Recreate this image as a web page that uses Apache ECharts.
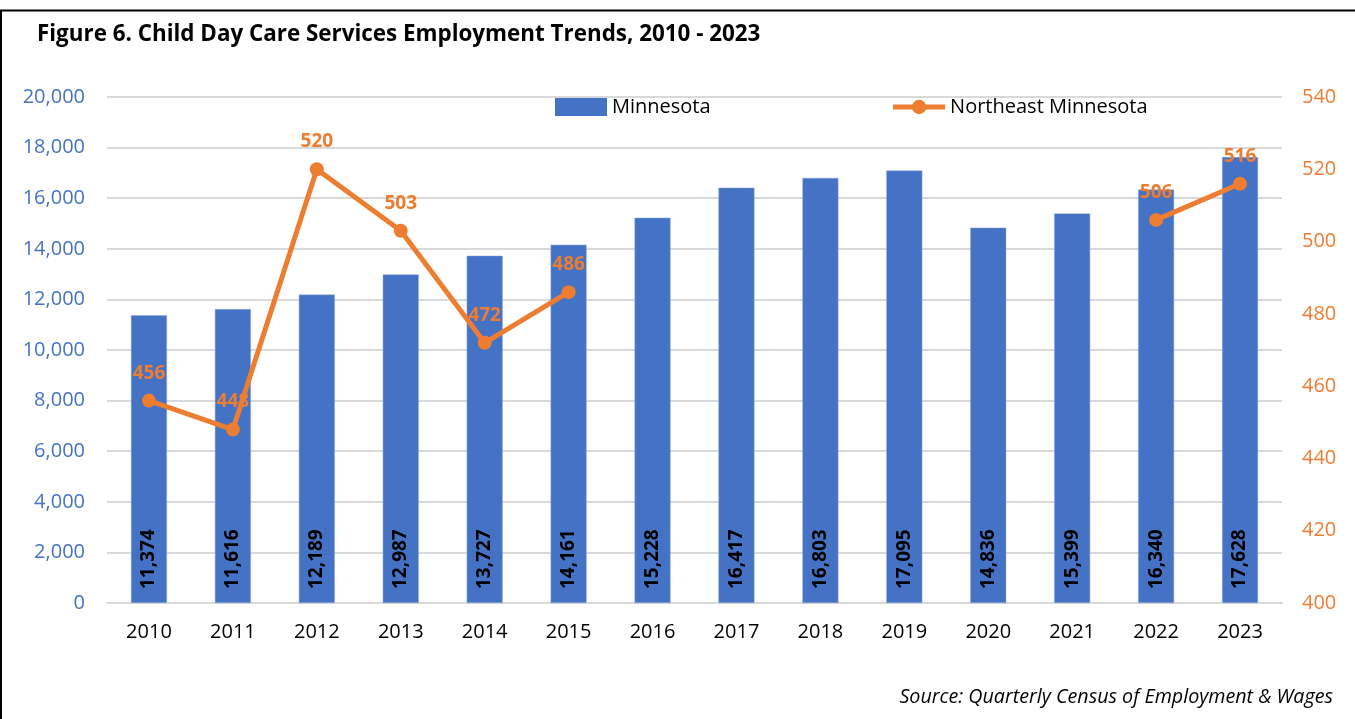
<!DOCTYPE html>
<html>
<head>
<meta charset="utf-8">
<script src="https://cdn.jsdelivr.net/npm/echarts@6/dist/echarts.min.js"></script>
<style>
html,body{margin:0;padding:0;background:#fff;}
#chart{width:1355px;height:719px;}
</style>
</head>
<body>
<div id="chart"></div>
<script>
const years = ['2010','2011','2012','2013','2014','2015','2016','2017','2018','2019','2020','2021','2022','2023'];
const minnesota = [11374,11616,12189,12987,13727,14161,15228,16417,16803,17095,14836,15399,16340,17628];
const northeast = [456,448,520,503,472,486,null,null,null,null,null,null,506,516];

const FONT = '"Open Sans", "Noto Sans", sans-serif';
const chart = echarts.init(document.getElementById('chart'), null, {renderer:'canvas'});
chart.setOption({
  backgroundColor:'#fff',
  animation:false,
  textStyle:{fontFamily:FONT},
  title:{
    text:'Figure 6. Child Day Care Services Employment Trends, 2010 - 2023',
    left:32, top:19,
    textStyle:{fontFamily:FONT, fontSize:22.4, fontWeight:'bold', color:'#000'}
  },
  graphic:[
    {type:'line', shape:{x1:0,y1:10.5,x2:1355,y2:10.5}, style:{stroke:'#000',lineWidth:2}},
    {type:'line', shape:{x1:1,y1:10,x2:1,y2:719}, style:{stroke:'#000',lineWidth:2}},
    {type:'text', right:22, top:687, style:{text:'Source: Quarterly Census of Employment & Wages', font:'italic 19.7px '+FONT, fill:'#000'}}
  ],
  legend:{
    top:92,
    left:550,
    itemGap:180,
    itemWidth:52,
    itemHeight:18,
    textStyle:{fontFamily:FONT, fontSize:20, color:'#000'},
    data:[
      {name:'Minnesota', icon:'rect', itemStyle:{borderWidth:0}},
      {name:'Northeast Minnesota', lineStyle:{width:5}}
    ]
  },
  grid:{left:107, right:73, top:97, bottom:116, containLabel:false},
  xAxis:{
    type:'category',
    data:years,
    axisLine:{show:true, lineStyle:{color:'#d9d9d9', width:2}},
    axisTick:{show:false},
    axisLabel:{color:'#000', fontSize:20, margin:19, fontFamily:FONT}
  },
  yAxis:[
    {
      type:'value', min:0, max:20000, interval:2000,
      axisLine:{show:false}, axisTick:{show:false},
      splitLine:{lineStyle:{color:'#d9d9d9', width:2}},
      axisLabel:{color:'#4472C4', fontSize:20, margin:22, fontFamily:FONT,
        formatter:v=>v.toLocaleString('en-US')}
    },
    {
      type:'value', min:400, max:540, interval:20,
      axisLine:{show:false}, axisTick:{show:false},
      splitLine:{show:false},
      axisLabel:{color:'#ED7D31', fontSize:20, margin:20, fontFamily:FONT}
    }
  ],
  series:[
    {
      name:'Minnesota', type:'bar', data:minnesota, yAxisIndex:0,
      barWidth:36,
      itemStyle:{color:'#4472C4', borderColor:'#8FAADC', borderWidth:0.5},
      label:{
        show:true, position:'insideBottom', rotate:90, align:'left', verticalAlign:'middle',
        distance:14, color:'#000', fontWeight:'bold', fontSize:19, fontFamily:FONT,
        formatter:p=>p.value.toLocaleString('en-US')
      },
      z:2
    },
    {
      name:'Northeast Minnesota', type:'line', data:northeast, yAxisIndex:1,
      connectNulls:false,
      symbol:'circle', symbolSize:14,
      lineStyle:{color:'#ED7D31', width:5},
      itemStyle:{color:'#ED7D31'},
      label:{show:true, position:'top', distance:11, color:'#ED7D31', fontWeight:'bold', fontSize:19, fontFamily:FONT},
      z:3
    }
  ]
});
</script>
</body>
</html>
